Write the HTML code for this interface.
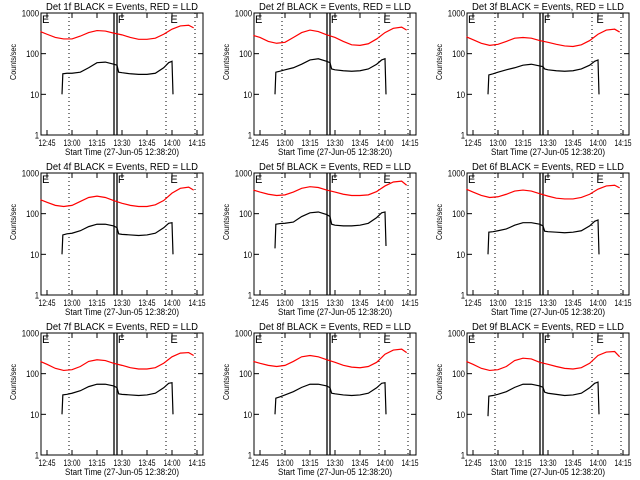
<!DOCTYPE html>
<html><head><meta charset="utf-8"><style>
body{margin:0;background:#fff;width:640px;height:480px;overflow:hidden}
svg{display:block;font-family:"Liberation Sans",sans-serif}
</style></head><body>
<svg id="c" width="640" height="480"></svg>
<script>
const dets = ["1f","2f","3f","4f","5f","6f","7f","8f","9f"];
const xTickLabels = ["12:45","13:00","13:15","13:30","13:45","14:00","14:15"];
const yTickLabels = ["1","10","100","1000"];
const redTimes = [-4,0,5,10,15,20,25,30,35,40,45,50,55,60,65,70,75,80,85,88];
const blackTimes = [9,9.5,12,15,20,25,30,35,40,42,43,45,50,55,60,65,70,73,75,75.6];
const red1=[350,300,250,230,230,270,330,370,360,320,290,250,225,225,240,300,400,480,500,430];
const red2=[280,250,200,180,190,250,330,380,350,290,250,200,165,160,175,230,330,420,450,380];
const red3=[260,220,180,160,170,200,240,250,240,210,190,170,155,150,165,210,300,380,400,340];
const red4=[220,190,160,150,160,200,250,270,250,210,180,160,150,150,165,210,320,420,450,380];
const red5=[380,340,300,280,290,340,420,460,440,380,340,300,280,280,290,350,480,600,630,500];
const red6=[400,340,280,250,260,300,360,380,360,310,270,240,230,230,250,300,400,480,500,430];
const red7=[200,170,135,120,125,150,200,220,210,180,160,140,130,130,140,180,260,320,330,280];
const red8=[200,180,160,150,160,200,260,280,260,220,190,160,145,140,150,190,300,380,400,330];
const red9=[200,170,135,120,125,150,210,240,230,190,170,150,135,130,140,180,280,340,350,260];
const blk1=[10,32,33,33,35,45,60,62,55,52,35,34,32,31,31,33,45,60,65,10];
const blk2=[10,35,37,40,45,55,70,75,65,60,42,40,38,37,38,42,55,70,75,10];
const blk3=[10,30,32,35,40,45,52,55,50,48,42,40,38,37,38,42,52,65,70,10];
const blk4=[10,30,32,33,38,48,55,55,50,45,32,31,30,29,30,33,45,58,60,10];
const blk5=[14,55,57,58,62,85,105,110,95,85,55,52,50,50,52,58,80,105,110,16];
const blk6=[10,35,36,38,42,52,60,60,55,50,37,36,35,34,35,38,50,65,70,10];
const blk7=[10,30,31,33,38,48,55,55,50,45,32,31,30,29,30,33,45,58,60,10];
const blk8=[10,25,27,30,36,46,55,55,50,45,33,32,30,29,30,33,45,58,60,10];
const blk9=[9,28,29,31,36,46,55,55,50,46,35,33,31,29,30,33,45,58,62,10];
const reds=[red1,red2,red3,red4,red5,red6,red7,red8,red9];
const blks=[blk1,blk2,blk3,blk4,blk5,blk6,blk7,blk8,blk9];
const NS="http://www.w3.org/2000/svg";
const svg=document.getElementById('c');
function mk(tag,attrs,parent){const e=document.createElementNS(NS,tag);for(const k in attrs)e.setAttribute(k,attrs[k]);parent.appendChild(e);return e;}
for(let p=0;p<9;p++){
  const ox=(p%3)*213, oy=Math.floor(p/3)*160;
  const g=mk('g',{transform:`translate(${ox},${oy})`},svg);
  
  
  const L=41,R=203,T=13,B=135;
  const xs=t=>47+t*150/90;
  const ys=v=>B-Math.log10(v)*40.67;
  const t=mk('text',{x:122,y:10,'font-size':'10','text-anchor':'middle',textLength:152,lengthAdjust:'spacingAndGlyphs',fill:'#000'},g);
  t.textContent=`Det ${dets[p]} BLACK = Events, RED = LLD`;
  
  
  const fr=mk('rect',{x:L,y:T,width:R-L,height:B-T,fill:'none',stroke:'#000','stroke-width':1},g);
  
  
  yTickLabels.forEach((lab,i)=>{
    const y=ys(Math.pow(10,i));
    mk('line',{x1:L,x2:L+5,y1:y,y2:y,stroke:'#000'},g);
    mk('line',{x1:R-5,x2:R,y1:y,y2:y,stroke:'#000'},g);
    const tx=mk('text',{x:L-2,y:y+3.5,'font-size':'9','text-anchor':'end',textLength:lab.length*4.3,lengthAdjust:'spacingAndGlyphs'},g);
    tx.textContent=lab;
    
    
  });
  xTickLabels.forEach((lab,i)=>{
    const x=xs(i*15);
    mk('line',{x1:x,x2:x,y1:B,y2:B-5,stroke:'#000'},g);
    mk('line',{x1:x,x2:x,y1:T,y2:T+5,stroke:'#000'},g);
    const tx=mk('text',{x:x,y:B+11,'font-size':'9','text-anchor':'middle',textLength:17,lengthAdjust:'spacingAndGlyphs'},g);
    tx.textContent=lab;
    
    
  });
  const xt=mk('text',{x:122,y:B+20,'font-size':'9.5','text-anchor':'middle',textLength:114,lengthAdjust:'spacingAndGlyphs'},g);
  xt.textContent='Start Time (27-Jun-05 12:38:20)';
  
  
  const yt=mk('text',{x:0,y:0,'font-size':'8','text-anchor':'middle',textLength:36,lengthAdjust:'spacingAndGlyphs',transform:`translate(16,${(T+B)/2-12}) rotate(-90)`},g);
  yt.textContent='Counts/sec';
  
  
  [13.2,71.4,88.8].forEach(tm=>{const x=xs(tm);mk('line',{x1:x,x2:x,y1:T,y2:B,stroke:'#000','stroke-dasharray':'1,3'},g);});
  [40.2,42].forEach(tm=>{const x=xs(tm);mk('line',{x1:x,x2:x,y1:T,y2:B,stroke:'#000','stroke-width':1.3},g);});
  [["E",-3],["F",42.5],["E",74]].forEach(([s,tm])=>{const tx=mk('text',{x:xs(tm),y:T+10,'font-size':'11'},g);tx.textContent=s;});
  const rp=mk('polyline',{points:redTimes.map((tm,i)=>xs(tm)+','+ys(reds[p][i])).join(' '),fill:'none',stroke:'#f00','stroke-width':1.2},g);
  
  
  const bp=mk('polyline',{points:blackTimes.map((tm,i)=>xs(tm)+','+ys(blks[p][i])).join(' '),fill:'none',stroke:'#000','stroke-width':1.2},g);
  
  
}
</script>
</body></html>
